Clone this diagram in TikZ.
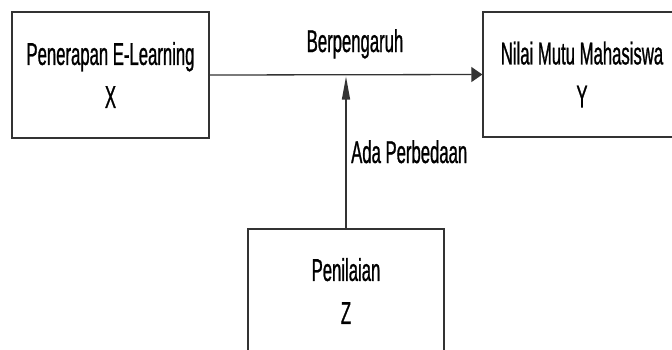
\documentclass[tikz,border=0pt]{standalone}
\usepackage{fontspec}
\setmainfont{Liberation Sans}[FakeStretch=0.53,FakeBold=0.8]
\usetikzlibrary{arrows.meta}
\begin{document}
\begin{tikzpicture}[x=1pt,y=-1pt,
  lineclr/.style={draw=black!80,line width=1.3pt},
  boxnode/.style={lineclr,rectangle,inner sep=0pt,align=center,
    font=\fontsize{31.5}{43}\selectfont},
  lbl/.style={inner sep=0pt,font=\fontsize{31.5}{43}\selectfont},
  conn/.style={lineclr}]
\useasboundingbox (0,0) rectangle (672,349);
\clip (0,0) rectangle (672,349);
\fill[white] (0,0) rectangle (672,349);
\node[boxnode,minimum width=197pt,minimum height=126pt] (X) at (110.5,75) {Penerapan E-Learning\\X};
\node[boxnode,minimum width=198pt,minimum height=125pt] (Y) at (582,74.5) {Nilai Mutu Mahasiswa\\Y};
\node[boxnode,minimum width=196pt,minimum height=124pt] (Z) at (346,291) {Penilaian\\Z};
\coordinate (j) at (346,76.5);
\draw[conn,-{Triangle[length=11pt,width=15pt]}] (X.east) -- (Y.west);
\draw[conn,-{Triangle[length=23pt,width=8pt]}] (Z.north) -- (j);
\node[lbl,anchor=base] (b) at (355,52) {Berpengaruh};
\node[lbl,anchor=base west] (a) at (351,163) {Ada Perbedaan};
\end{tikzpicture}
\end{document}
